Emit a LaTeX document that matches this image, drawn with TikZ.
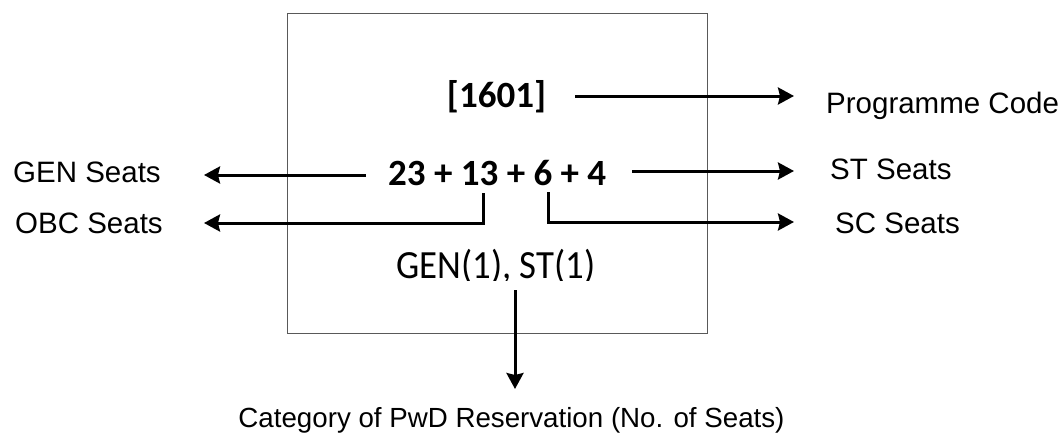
\documentclass[tikz,border=0pt]{standalone}
\usepackage{fontspec}
\setmainfont{Liberation Sans}
\newfontfamily\calib{Carlito}
\newfontfamily\calibn[FakeStretch=0.92]{Carlito}
\usetikzlibrary{arrows.meta}
\tikzset{
  lbl/.style={inner sep=0pt, font=\fontsize{29.5}{32}\selectfont},
  catlbl/.style={inner sep=0pt, font=\fontsize{27.7}{30}\selectfont},
  num/.style={inner sep=0pt, font=\calib\bfseries\fontsize{37}{40}\selectfont},
  pwd/.style={inner sep=0pt, font=\calibn\fontsize{40}{42}\selectfont},
  arr/.style={line width=3pt, -{Stealth[length=16pt,width=17pt,inset=2pt]}},
  frame/.style={draw=black!65, line width=1pt}
}
\begin{document}
\begin{tikzpicture}[x=1pt,y=-1pt]
\useasboundingbox (0,0) rectangle (1061,432);
% frame
\draw[frame] (287,13) rectangle (707,333);
% centre texts
\node[num, anchor=base] (code) at (496.5,107) {[1601]};
\node[num, anchor=base west] (seats) at (388,185) {23 + 13 + 6 + 4};
\begin{scope}
  \clip (287,13) rectangle (707,280.5);
  \node[pwd, anchor=base] (pwdc) at (496,278.5) {GEN(1), ST(1)};
\end{scope}
% labels
\node[lbl, anchor=base west] (pc) at (826,113) {Programme Code};
\node[lbl, anchor=base west] (st) at (830,179) {ST Seats};
\node[lbl, anchor=base west] (sc) at (835,233) {SC Seats};
\node[lbl, anchor=base west] (gen) at (13,182) {GEN Seats};
\node[lbl, anchor=base west] (obc) at (15,233) {OBC Seats};
\node[catlbl, anchor=base] (cat) at (511.5,427) {Category of PwD Reservation (No. of Seats)};
% connector points
\coordinate (pcA) at (575,96);  \coordinate (pcB) at (794,96);
\coordinate (stA) at (632,171); \coordinate (stB) at (794,171);
\coordinate (genA) at (366,175); \coordinate (genB) at (204,175);
\coordinate (obcA) at (483,193); \coordinate (obcM) at (483,223); \coordinate (obcB) at (204,223);
\coordinate (scA) at (548,192); \coordinate (scM) at (548,222); \coordinate (scB) at (794,222);
\coordinate (pwdA) at (515,290); \coordinate (pwdB) at (515,389);
% arrows
\draw[arr] (pcA) -- (pcB);
\draw[arr] (stA) -- (stB);
\draw[arr] (genA) -- (genB);
\draw[arr] (obcA) -- (obcM) -- (obcB);
\draw[arr] (scA) -- (scM) -- (scB);
\draw[arr] (pwdA) -- (pwdB);
\end{tikzpicture}
\end{document}
